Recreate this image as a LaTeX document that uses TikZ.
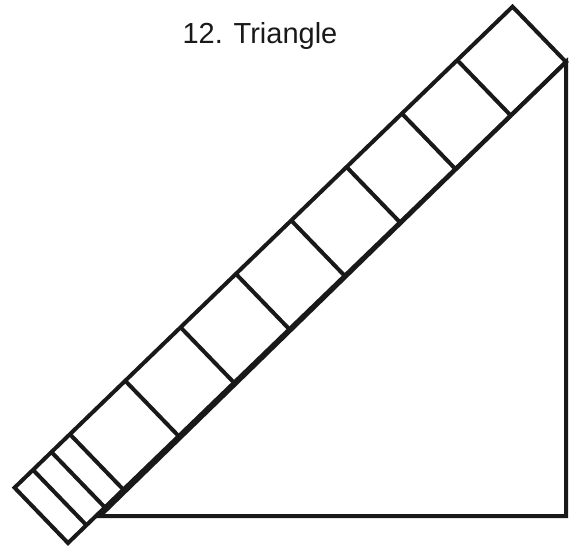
\documentclass[tikz,border=0pt]{standalone}
\usepackage{fontspec}
\setmainfont{Liberation Sans}
\usetikzlibrary{calc}
\begin{document}
\begin{tikzpicture}[x=1pt,y=-1pt,
  edge/.style={line width=4pt, draw=black!90},
  title/.style={font=\fontsize{29}{34}\selectfont, text=black!90, anchor=base, inner sep=0pt}]
\useasboundingbox (0,0) rectangle (571,547);
\coordinate (P) at (566,62);
\coordinate (Q) at (68,543);
\coordinate (T) at ($(P)+(-53.44,-55.33)$);
\coordinate (L) at ($(Q)+(-53.44,-55.33)$);
\coordinate (B) at (100,516);
\coordinate (R) at (566,516);
% triangle
\draw[edge] (B) -- (R) -- (P) -- cycle;
% strip
\draw[edge] (P) -- (T) -- (L) -- (Q) -- cycle;
\foreach \k in {1,...,8}{
  \draw[edge] ($(P)!\k/9!(Q)$) -- ($(T)!\k/9!(L)$);
}
\foreach \k in {0.92593,0.96296}{
  \draw[edge] ($(P)!\k!(Q)$) -- ($(T)!\k!(L)$);
}
\node[title] (ttl) at (260,43) {12. Triangle};
\end{tikzpicture}
\end{document}
